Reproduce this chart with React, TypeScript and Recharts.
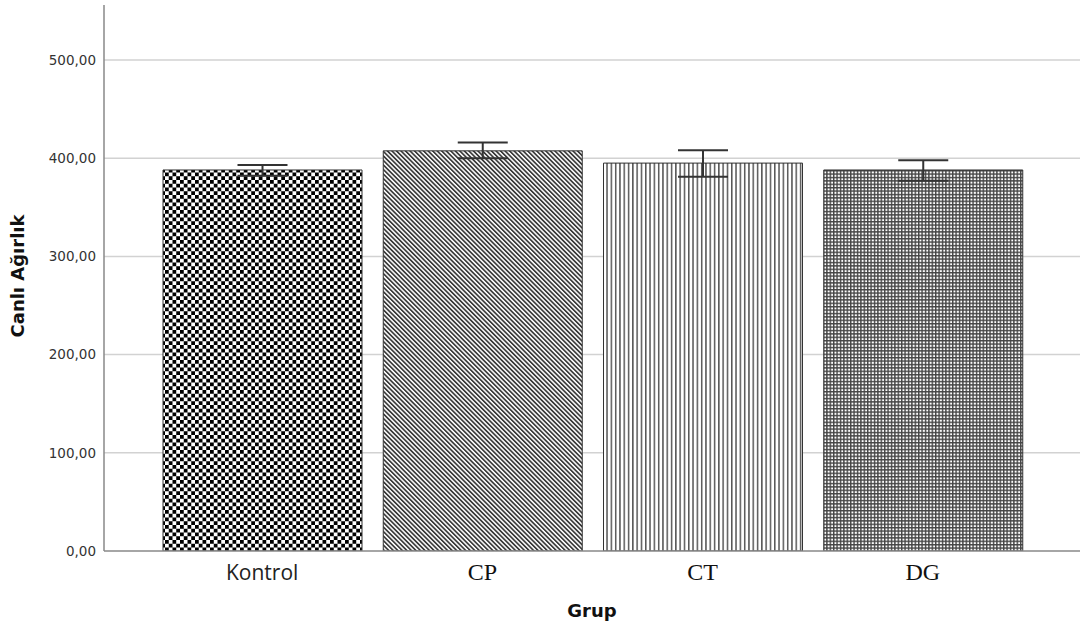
import React from 'react';
import { BarChart, Bar, XAxis, YAxis, CartesianGrid, ErrorBar, Cell, Label } from 'recharts';

// Group means of live weight with their error-bar limits
const groups = ['Kontrol', 'CP', 'CT', 'DG'];
const means = [388, 407.5, 395, 388];
const upperLimits = [393, 416, 408, 398];
const lowerLimits = [382, 400, 381, 377];
const yTicks = [0, 100, 200, 300, 400, 500];
const gridValues = [100, 200, 300, 400, 500];

// Fill pattern for each group's bar
const fills = ['url(#pat-check)', 'url(#pat-diag)', 'url(#pat-vert)', 'url(#pat-grid)'];

const data = groups.map((name, i) => ({
  name,
  value: means[i],
  err: [means[i] - lowerLimits[i], upperLimits[i] - means[i]],
}));

const formatTick = (v: number) => v.toFixed(2).replace('.', ',');

const GroupTick = (props: any) => {
  const { x, y, payload } = props;
  const isSans = payload.value === 'Kontrol';
  return (
    <text
      x={x}
      y={y + 21}
      textAnchor="middle"
      fill={isSans ? '#222' : '#111'}
      fontFamily={isSans ? '"Open Sans", sans-serif' : '"Liberation Serif", "DejaVu Serif", serif'}
      fontSize={isSans ? 21 : 24}
    >
      {payload.value}
    </text>
  );
};

export default function App() {
  return (
    <div style={{ position: 'absolute', left: 0, top: 0, width: 1084, height: 630, background: '#fff' }}>
      <BarChart
        width={1084}
        height={630}
        data={data}
        margin={{ top: 5, right: 4, left: 0, bottom: 0 }}
      >
        <defs>
          <pattern id="pat-check" patternUnits="userSpaceOnUse" width={7.5} height={7.5}>
            <rect x={0} y={0} width={7.5} height={7.5} fill="#fff" />
            <rect x={0} y={0} width={3.75} height={3.75} fill="#000" />
            <rect x={3.75} y={3.75} width={3.75} height={3.75} fill="#000" />
          </pattern>
          <pattern id="pat-diag" patternUnits="userSpaceOnUse" width={3.2} height={10} patternTransform="rotate(-45)">
            <rect x={0} y={0} width={3.2} height={10} fill="#fff" />
            <rect x={0} y={0} width={1.7} height={10} fill="#3a3a3a" />
          </pattern>
          <pattern id="pat-vert" patternUnits="userSpaceOnUse" width={4.3} height={10}>
            <rect x={0} y={0} width={4.3} height={10} fill="#fff" />
            <rect x={0} y={0} width={1.5} height={10} fill="#555" />
          </pattern>
          <pattern id="pat-grid" patternUnits="userSpaceOnUse" width={3.4} height={3.4}>
            <rect x={0} y={0} width={3.4} height={3.4} fill="#fff" />
            <rect x={0} y={0} width={1.4} height={3.4} fill="#444" />
            <rect x={0} y={0} width={3.4} height={1.4} fill="#444" />
          </pattern>
        </defs>
        <CartesianGrid
          horizontal
          vertical={false}
          horizontalValues={gridValues}
          stroke="#d2d2d2"
          strokeWidth={1.5}
        />
        <XAxis
          dataKey="name"
          padding={{ left: 48, right: 47 }}
          axisLine={{ stroke: '#888', strokeWidth: 1.5 }}
          tickLine={false}
          height={79}
          tick={<GroupTick />}
          interval={0}
        >
          <Label
            content={() => (
              <text
                x={592}
                y={617}
                textAnchor="middle"
                fontFamily='"DejaVu Sans", sans-serif'
                fontWeight="bold"
                fontSize={18}
                fill="#111"
              >
                Grup
              </text>
            )}
          />
        </XAxis>
        <YAxis
          width={104}
          domain={[0, 556]}
          ticks={yTicks}
          tickFormatter={formatTick}
          axisLine={{ stroke: '#888', strokeWidth: 1.5 }}
          tickLine={false}
          tick={{ fill: '#333', fontSize: 13.5, fontFamily: '"DejaVu Sans", sans-serif' }}
          allowDataOverflow
        >
          <Label
            content={() => (
              <text
                x={24}
                y={276}
                transform="rotate(-90 24 276)"
                textAnchor="middle"
                fontFamily='"DejaVu Sans", sans-serif'
                fontWeight="bold"
                fontSize={18}
                fill="#111"
              >
                Canlı Ağırlık
              </text>
            )}
          />
        </YAxis>
        <Bar dataKey="value" barSize={199} stroke="#333" strokeWidth={1} isAnimationActive={false}>
          {data.map((d, i) => (
            <Cell key={d.name} fill={fills[i]} />
          ))}
          <ErrorBar dataKey="err" width={25} stroke="#333" strokeWidth={2} isAnimationActive={false} />
        </Bar>
      </BarChart>
    </div>
  );
}
